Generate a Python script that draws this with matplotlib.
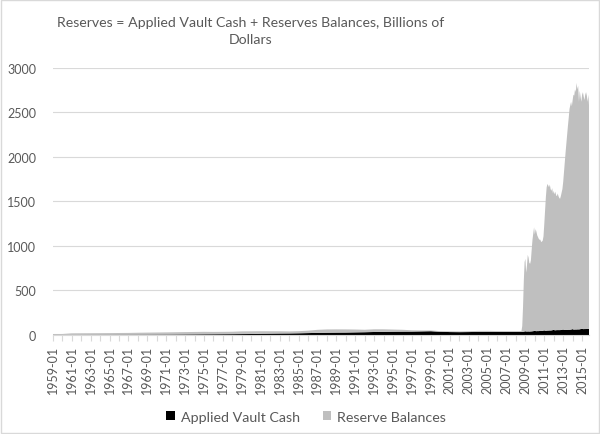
import numpy as np
import matplotlib
matplotlib.use("Agg")
import matplotlib.pyplot as plt
from matplotlib.patches import Rectangle

plt.rcParams['font.family'] = ['Lato', 'DejaVu Sans']

# dates: yearly up to 2008, monthly from the 2008 jump onward
dates = ["%d-01" % y for y in range(1959, 2009)] + ["2008-08"]
for y in range(2008, 2016):
    for mo in range(1, 13):
        if (y == 2008 and mo < 9) or (y == 2015 and mo > 10):
            continue
        dates.append("%d-%02d" % (y, mo))

# billions of dollars
vault_cash = [
    0.3, 0.5, 2.3, 2.6, 3.0, 3.2, 3.4, 3.8, 4.1, 4.3,
    4.6, 5.0, 5.3, 5.8, 6.6, 7.2, 8.0, 8.5, 9.1, 9.6,
    10.5, 11.3, 14.2, 15.5, 16.8, 17.5, 19.2, 21.5, 23.8, 25.5,
    26.8, 27.5, 29.5, 31.2, 33.8, 35.5, 37.2, 38.0, 38.5, 40.5,
    42.5, 36.0, 33.0, 32.0, 33.0, 35.0, 36.0, 35.0, 34.0, 34.0,
    34,
    35, 36, 37, 40,
    42, 40, 39, 40, 40, 39, 40, 40, 41, 42, 43, 45,
    47, 44, 43, 44, 44, 44, 45, 45, 45, 46, 47, 50,
    52, 49, 48, 49, 50, 50, 51, 51, 51, 52, 53, 56,
    58, 54, 53, 54, 55, 55, 55, 55, 55, 56, 57, 60,
    62, 58, 57, 58, 58, 58, 59, 59, 59, 60, 61, 64,
    66, 62, 61, 62, 62, 62, 63, 63, 63, 64, 66, 69,
    71, 67, 66, 67, 67, 67, 68, 68, 68, 69,
]
reserve_balances = [
    11.0, 11.0, 16.5, 16.8, 16.9, 17.3, 17.9, 18.6, 19.2, 21.0,
    22.2, 23.1, 24.2, 25.3, 26.1, 26.8, 27.5, 26.0, 26.2, 27.0,
    30.1, 30.0, 28.2, 26.5, 24.9, 22.5, 23.5, 27.0, 34.2, 37.0,
    36.5, 35.5, 32.0, 27.6, 30.2, 28.5, 24.0, 20.5, 14.5, 10.5,
    8.8, 7.0, 8.5, 8.0, 9.5, 11.0, 10.5, 9.0, 9.5, 9.5,
    10,
    65, 279, 573, 780,
    813, 660, 741, 860, 830, 771, 760, 800, 919, 1028, 1097, 1165,
    1083, 1146, 1117, 1076, 1056, 1036, 1025, 1025, 1000, 1004, 1013, 1060,
    1198, 1351, 1502, 1611, 1647, 1630, 1609, 1639, 1589, 1568, 1597, 1534,
    1562, 1526, 1557, 1516, 1505, 1535, 1505, 1485, 1475, 1504, 1543, 1580,
    1658, 1772, 1883, 1992, 2092, 2192, 2291, 2381, 2481, 2520, 2559, 2506,
    2574, 2638, 2629, 2698, 2668, 2770, 2697, 2737, 2557, 2681, 2614, 2551,
    2629, 2661, 2614, 2573, 2633, 2661, 2622, 2552, 2632, 2471,
]

def month_index(s):
    y, m = s.split("-")
    return (int(y) - 1959) * 12 + int(m) - 1

order = sorted(range(len(dates)), key=lambda i: month_index(dates[i]))
x = np.array([month_index(dates[i]) for i in order])
vc = np.array([vault_cash[i] for i in order])
rb = np.array([reserve_balances[i] for i in order])

fig = plt.figure(figsize=(6, 4.35), dpi=100)
ax = fig.add_axes([0.088, 0.2276, 0.894, 0.6138])

ax.stackplot(x, vc, rb, colors=['#000000', '#bfbfbf'],
             labels=['Applied Vault Cash', 'Reserve Balances'], linewidth=0)

ax.set_xlim(0, x[-1])
ax.set_ylim(0, 3000)
ax.set_yticks(range(0, 3001, 500))
ax.yaxis.grid(True, color='#d9d9d9', linewidth=0.8)
ax.set_axisbelow(True)

tick_pos = np.arange(0, x[-1] + 1, 12)
tick_lab = ["%d-01" % (1959 + p // 12) if (p // 12) % 2 == 0 else "" for p in tick_pos]
ax.set_xticks(tick_pos)
ax.set_xticklabels(tick_lab, rotation=90)

for s in ['top', 'right', 'left']:
    ax.spines[s].set_visible(False)
ax.spines['bottom'].set_color('#d9d9d9')
ax.tick_params(axis='y', length=0, labelsize=9, labelcolor='#595959', pad=12)
ax.tick_params(axis='x', length=4, color='#d9d9d9', labelsize=9,
               labelcolor='#595959', pad=3)

fig.text(57 / 600, 0.962, "Reserves = Applied Vault Cash + Reserves Balances, Billions of\nDollars",
         ha='left', va='top', fontsize=10.2, color='#595959', linespacing=1.5,
         multialignment='center')

fig.legend(loc='center', bbox_to_anchor=(0.51, 0.04), ncol=2, frameon=False,
           fontsize=10.3, labelcolor='#595959', handlelength=0.6, handleheight=0.6,
           handletextpad=0.4, columnspacing=1.6)

fig.patches.append(Rectangle((0.002, 0.002), 0.996, 0.995, transform=fig.transFigure,
                             fill=False, edgecolor='#d9d9d9', linewidth=1))

fig.savefig('out.png', dpi=100)
